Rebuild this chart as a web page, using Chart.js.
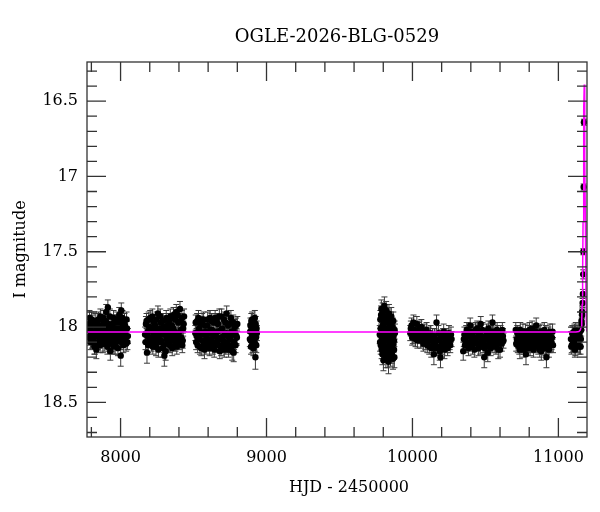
<!DOCTYPE html>
<html>
<head>
<meta charset="utf-8">
<script src="https://cdn.jsdelivr.net/npm/chart.js@4.4.1/dist/chart.umd.min.js"></script>
<style>
  html, body { margin: 0; padding: 0; background: #fff; }
  #wrap { width: 600px; height: 512px; }
</style>
</head>
<body>
<div id="wrap"><canvas id="lc" width="600" height="512"></canvas></div>
<script>
// [HJD - 2450000, I mag, error], one array per season
const season1 = [
  [7778,18.02,0.05],[7784,17.98,0.05],[7790,18.06,0.05],[7795,18.10,0.05],[7801,17.95,0.05],
  [7806,18.04,0.05],[7812,18.08,0.05],[7818,17.99,0.05],[7823,18.12,0.06],[7829,18.03,0.05],
  [7834,18.15,0.06],[7840,17.96,0.05],[7846,18.05,0.05],[7851,18.01,0.05],[7857,18.09,0.05],
  [7862,17.93,0.05],[7868,18.06,0.05],[7874,18.00,0.05],[7879,18.11,0.06],[7885,17.97,0.05],
  [7890,18.04,0.05],[7896,18.07,0.05],[7902,17.90,0.05],[7907,18.02,0.05],[7913,17.87,0.05],
  [7918,18.10,0.05],[7924,18.05,0.05],[7930,18.16,0.06],[7935,17.99,0.05],[7941,18.03,0.05],
  [7946,18.08,0.05],[7952,17.94,0.05],[7957,18.01,0.05],[7963,18.12,0.06],[7969,18.06,0.05],
  [7974,17.97,0.05],[7980,18.04,0.05],[7985,18.09,0.05],[7991,17.92,0.05],[7996,18.02,0.05],
  [8001,18.19,0.07],[8005,17.89,0.05],[8010,18.05,0.05],[8016,18.00,0.05],[8021,18.08,0.05],
  [8027,17.96,0.05],[8032,18.03,0.05],[8038,18.11,0.05],[8044,18.01,0.05],[8050,18.06,0.05],
  [7781,18.07,0.05],[7787,17.94,0.05],[7793,18.01,0.05],[7798,18.05,0.05],[7804,18.09,0.05],
  [7809,17.97,0.05],[7815,18.03,0.05],[7821,18.13,0.05],[7826,17.96,0.05],[7832,18.06,0.05],
  [7837,18.00,0.05],[7843,18.10,0.05],[7849,17.95,0.05],[7854,18.04,0.05],[7860,18.12,0.05],
  [7865,17.99,0.05],[7871,18.08,0.05],[7877,18.02,0.05],[7882,17.94,0.05],[7888,18.11,0.05],
  [7893,18.00,0.05],[7899,17.96,0.05],[7905,18.08,0.05],[7910,18.13,0.05],[7916,17.98,0.05],
  [7921,18.02,0.05],[7927,17.93,0.05],[7933,18.07,0.05],[7938,18.11,0.05],[7944,17.98,0.05],
  [7949,18.05,0.05],[7955,18.13,0.05],[7960,17.97,0.05],[7966,18.03,0.05],[7971,18.09,0.05],
  [7977,17.95,0.05],[7982,18.14,0.05],[7988,18.01,0.05],[7994,18.06,0.05],[7999,17.97,0.05],
  [8003,18.10,0.05],[8008,18.02,0.05],[8013,17.94,0.05],[8019,18.12,0.05],[8024,18.04,0.05],
  [8030,17.99,0.05],[8035,18.07,0.05],[8041,17.95,0.05],[8047,18.10,0.05]
];
const season2 = [
  [8168,18.05,0.05],[8174,17.98,0.05],[8181,18.17,0.07],[8187,18.03,0.05],[8193,17.95,0.05],
  [8199,18.08,0.05],[8206,18.01,0.05],[8212,18.11,0.05],[8218,17.93,0.05],[8225,18.04,0.05],
  [8231,18.07,0.05],[8237,17.99,0.05],[8243,18.13,0.06],[8250,18.02,0.05],[8256,17.91,0.05],
  [8262,18.06,0.05],[8269,18.10,0.05],[8275,17.97,0.05],[8281,18.04,0.05],[8288,18.14,0.06],
  [8294,18.00,0.05],[8300,18.19,0.07],[8306,18.05,0.05],[8313,17.94,0.05],[8319,18.09,0.05],
  [8325,18.02,0.05],[8332,17.96,0.05],[8338,18.12,0.05],[8344,18.06,0.05],[8351,17.99,0.05],
  [8357,18.08,0.05],[8363,17.92,0.05],[8370,18.03,0.05],[8376,18.11,0.05],[8382,17.90,0.05],
  [8388,18.05,0.05],[8395,17.97,0.05],[8401,18.07,0.05],[8407,17.88,0.05],[8413,18.02,0.05],
  [8420,17.94,0.05],[8426,18.09,0.05],[8432,17.98,0.05],
  [8171,18.10,0.05],[8178,17.96,0.05],[8184,18.06,0.05],[8190,18.12,0.05],[8196,18.00,0.05],
  [8203,17.94,0.05],[8209,18.07,0.05],[8215,18.02,0.05],[8221,18.13,0.05],[8228,17.97,0.05],
  [8234,18.10,0.05],[8240,18.03,0.05],[8246,17.95,0.05],[8253,18.08,0.05],[8259,18.15,0.05],
  [8265,18.01,0.05],[8272,17.93,0.05],[8278,18.09,0.05],[8284,18.05,0.05],[8291,17.96,0.05],
  [8297,18.12,0.05],[8303,18.03,0.05],[8309,18.16,0.06],[8316,18.07,0.05],[8322,17.99,0.05],
  [8328,18.11,0.05],[8335,18.04,0.05],[8341,17.93,0.05],[8347,18.09,0.05],[8354,18.14,0.05],
  [8360,18.01,0.05],[8366,18.06,0.05],[8373,17.95,0.05],[8379,18.08,0.05],[8385,18.13,0.05],
  [8391,17.92,0.05],[8398,18.04,0.05],[8404,18.10,0.05],[8410,17.96,0.05],[8416,18.07,0.05],
  [8423,18.12,0.05],[8429,18.01,0.05],[8435,17.93,0.05]
];
const season3 = [
  [8512,18.04,0.05],[8518,18.10,0.05],[8525,17.96,0.05],[8531,18.07,0.05],[8537,18.01,0.05],
  [8544,18.13,0.05],[8550,17.98,0.05],[8556,18.05,0.05],[8563,18.09,0.05],[8569,17.95,0.05],
  [8575,18.15,0.06],[8582,18.03,0.05],[8588,18.07,0.05],[8594,17.99,0.05],[8601,18.11,0.05],
  [8607,18.04,0.05],[8613,17.94,0.05],[8620,18.08,0.05],[8626,18.02,0.05],[8632,18.13,0.05],
  [8639,17.97,0.05],[8645,18.06,0.05],[8651,18.10,0.05],[8658,17.96,0.05],[8664,18.03,0.05],
  [8670,18.12,0.05],[8677,17.93,0.05],[8683,18.07,0.05],[8689,18.14,0.05],[8696,18.01,0.05],
  [8702,18.09,0.05],[8708,17.95,0.05],[8715,18.05,0.05],[8721,18.13,0.05],[8727,17.91,0.05],
  [8734,18.06,0.05],[8740,18.15,0.05],[8746,17.98,0.05],[8753,18.08,0.05],[8759,18.03,0.05],
  [8765,18.16,0.06],[8772,17.97,0.05],[8778,18.10,0.05],[8784,18.04,0.05],[8791,17.99,0.05],
  [8797,18.07,0.05],
  [8515,17.97,0.05],[8521,18.06,0.05],[8528,18.12,0.05],[8534,17.94,0.05],[8540,18.08,0.05],
  [8547,18.03,0.05],[8553,18.14,0.05],[8559,17.96,0.05],[8566,18.04,0.05],[8572,18.11,0.05],
  [8578,17.99,0.05],[8585,18.13,0.05],[8591,18.05,0.05],[8597,17.95,0.05],[8604,18.09,0.05],
  [8610,18.14,0.05],[8616,18.02,0.05],[8623,17.96,0.05],[8629,18.10,0.05],[8635,18.05,0.05],
  [8642,18.15,0.05],[8648,17.94,0.05],[8654,18.04,0.05],[8661,18.11,0.05],[8667,17.98,0.05],
  [8673,18.08,0.05],[8680,18.16,0.05],[8686,18.02,0.05],[8692,17.93,0.05],[8699,18.12,0.05],
  [8705,18.06,0.05],[8711,18.15,0.05],[8718,17.97,0.05],[8724,18.04,0.05],[8730,18.10,0.05],
  [8737,17.99,0.05],[8743,18.12,0.05],[8749,18.06,0.05],[8756,17.94,0.05],[8762,18.13,0.05],
  [8769,18.05,0.05],[8775,18.17,0.06],[8781,18.00,0.05],[8788,18.12,0.05],[8794,18.06,0.05],
  [8800,17.98,0.05]
];
const season4 = [
  [8888,18.03,0.05],[8892,18.09,0.05],[8896,17.96,0.05],[8900,18.06,0.05],[8904,18.12,0.05],
  [8908,17.99,0.05],[8912,18.04,0.05],[8916,18.10,0.05],[8920,17.94,0.05],[8924,18.20,0.08],
  [8928,18.07,0.05],[8932,18.01,0.05],
  [8886,18.08,0.05],[8890,17.99,0.05],[8894,18.13,0.05],[8898,18.02,0.05],[8902,17.95,0.05],
  [8906,18.08,0.05],[8910,18.14,0.05],[8914,17.97,0.05],[8918,18.05,0.05],[8922,18.11,0.05],
  [8926,17.98,0.05],[8930,18.12,0.05],[8934,18.04,0.05]
];
const season5 = [
  [9776,18.05,0.06],[9780,17.95,0.06],[9783,18.12,0.06],[9787,17.88,0.06],[9790,18.08,0.06],
  [9794,18.18,0.07],[9797,17.99,0.06],[9801,18.22,0.07],[9804,18.03,0.06],[9808,17.86,0.06],
  [9811,18.14,0.06],[9815,17.93,0.06],[9818,18.20,0.07],[9822,18.06,0.06],[9825,17.97,0.06],
  [9829,18.16,0.06],[9832,18.01,0.06],[9836,18.23,0.08],[9839,17.91,0.06],[9843,18.10,0.06],
  [9846,18.04,0.06],[9850,18.19,0.07],[9853,17.96,0.06],[9857,18.08,0.06],[9860,18.13,0.06],
  [9864,18.00,0.06],[9867,18.21,0.07],[9871,18.06,0.06],[9874,18.15,0.06],[9878,18.02,0.06],
  [9778,18.10,0.06],[9782,18.01,0.06],[9785,17.92,0.06],[9789,18.15,0.06],[9792,18.03,0.06],
  [9796,17.90,0.06],[9799,18.11,0.06],[9803,17.97,0.06],[9806,18.17,0.06],[9810,18.05,0.06],
  [9813,17.95,0.06],[9817,18.09,0.06],[9820,17.89,0.06],[9824,18.13,0.06],[9827,18.02,0.06],
  [9831,18.20,0.07],[9834,17.94,0.06],[9838,18.07,0.06],[9841,18.16,0.06],[9845,17.98,0.06],
  [9848,18.12,0.06],[9852,18.05,0.06],[9855,17.93,0.06],[9859,18.18,0.06],[9862,18.03,0.06],
  [9866,18.10,0.06],[9869,17.96,0.06],[9873,18.09,0.06],[9876,18.20,0.07],[9880,18.04,0.06],
  [9800,18.08,0.06],[9814,18.02,0.06],[9828,18.09,0.06],[9842,18.00,0.06],[9856,18.14,0.06],
  [9870,18.11,0.06]
];
const season6 = [
  [9985,18.04,0.05],[9994,17.99,0.05],[10003,18.06,0.05],[10012,18.02,0.05],[10021,18.08,0.05],
  [10030,17.98,0.05],[10039,18.05,0.05],[10048,18.01,0.05],[10057,18.09,0.05],[10066,18.04,0.05],
  [10075,18.11,0.05],[10084,18.03,0.05],[10093,18.07,0.05],[10102,18.12,0.05],[10111,18.05,0.05],
  [10120,18.09,0.05],[10129,18.14,0.06],[10138,18.06,0.05],[10147,18.18,0.07],[10156,18.10,0.05],
  [10165,17.97,0.05],[10174,18.13,0.05],[10183,18.08,0.05],[10192,18.20,0.07],[10201,18.11,0.05],
  [10210,18.06,0.05],[10219,18.15,0.06],[10228,18.09,0.05],[10237,18.12,0.05],[10246,18.07,0.05],
  [10255,18.10,0.05],[10264,18.05,0.05],
  [9989,18.01,0.05],[9998,18.07,0.05],[10007,17.97,0.05],[10016,18.05,0.05],[10025,18.03,0.05],
  [10034,18.09,0.05],[10043,18.02,0.05],[10052,18.06,0.05],[10061,18.00,0.05],[10070,18.08,0.05],
  [10079,18.05,0.05],[10088,18.10,0.05],[10097,18.02,0.05],[10106,18.08,0.05],[10115,18.13,0.05],
  [10124,18.04,0.05],[10133,18.09,0.05],[10142,18.12,0.05],[10151,18.06,0.05],[10160,18.14,0.05],
  [10169,18.09,0.05],[10178,18.04,0.05],[10187,18.16,0.06],[10196,18.07,0.05],[10205,18.13,0.05],
  [10214,18.03,0.05],[10223,18.10,0.05],[10232,18.06,0.05],[10241,18.14,0.05],[10250,18.04,0.05],
  [10259,18.12,0.05],[10268,18.08,0.05]
];
const season7 = [
  [10348,18.16,0.06],[10356,18.05,0.05],[10364,18.09,0.05],[10372,18.02,0.05],[10380,18.11,0.05],
  [10388,18.06,0.05],[10396,17.99,0.05],[10404,18.08,0.05],[10412,18.13,0.05],[10420,18.03,0.05],
  [10428,18.07,0.05],[10436,18.10,0.05],[10444,18.01,0.05],[10452,18.14,0.05],[10460,18.05,0.05],
  [10468,17.98,0.05],[10476,18.09,0.05],[10484,18.12,0.05],[10492,18.20,0.07],[10500,18.06,0.05],
  [10508,18.03,0.05],[10516,18.17,0.06],[10524,18.08,0.05],[10532,18.11,0.05],[10540,18.04,0.05],
  [10548,17.97,0.05],[10556,18.10,0.05],[10564,18.06,0.05],[10572,18.13,0.05],[10580,18.02,0.05],
  [10588,18.15,0.06],[10596,18.08,0.05],[10604,18.04,0.05],[10612,18.11,0.05],[10620,18.06,0.05],
  [10352,18.08,0.05],[10360,18.12,0.05],[10368,18.04,0.05],[10376,18.06,0.05],[10384,18.14,0.05],
  [10392,18.03,0.05],[10400,18.10,0.05],[10408,18.05,0.05],[10416,18.09,0.05],[10424,18.15,0.05],
  [10432,18.02,0.05],[10440,18.07,0.05],[10448,18.11,0.05],[10456,18.04,0.05],[10464,18.13,0.05],
  [10472,18.06,0.05],[10480,18.02,0.05],[10488,18.10,0.05],[10496,18.14,0.05],[10504,18.08,0.05],
  [10512,18.12,0.05],[10520,18.01,0.05],[10528,18.06,0.05],[10536,18.14,0.05],[10544,18.09,0.05],
  [10552,18.03,0.05],[10560,18.12,0.05],[10568,18.05,0.05],[10576,18.09,0.05],[10584,18.04,0.05],
  [10592,18.11,0.05],[10600,18.15,0.05],[10608,18.07,0.05],[10616,18.02,0.05],[10624,18.09,0.05]
];
const season8 = [
  [10708,18.02,0.05],[10715,18.08,0.05],[10722,18.12,0.05],[10729,18.05,0.05],[10736,18.15,0.06],
  [10743,18.07,0.05],[10750,18.10,0.05],[10757,18.03,0.05],[10764,18.13,0.05],[10771,18.06,0.05],
  [10778,18.18,0.07],[10785,18.09,0.05],[10792,18.04,0.05],[10799,18.11,0.05],[10806,18.14,0.05],
  [10813,18.07,0.05],[10820,18.01,0.05],[10827,18.10,0.05],[10834,18.05,0.05],[10841,18.12,0.05],
  [10848,17.99,0.05],[10855,18.08,0.05],[10862,18.13,0.05],[10869,18.04,0.05],[10876,18.09,0.05],
  [10883,18.16,0.06],[10890,18.06,0.05],[10897,18.11,0.05],[10904,18.02,0.05],[10911,18.14,0.05],
  [10918,18.20,0.07],[10925,18.08,0.05],[10932,18.05,0.05],[10939,18.12,0.05],[10946,18.07,0.05],
  [10953,18.10,0.05],[10960,18.03,0.05],
  [10711,18.11,0.05],[10718,18.04,0.05],[10725,18.09,0.05],[10732,18.13,0.05],[10739,18.02,0.05],
  [10746,18.12,0.05],[10753,18.06,0.05],[10760,18.15,0.05],[10767,18.08,0.05],[10774,18.03,0.05],
  [10781,18.11,0.05],[10788,18.14,0.05],[10795,18.07,0.05],[10802,18.02,0.05],[10809,18.09,0.05],
  [10816,18.12,0.05],[10823,18.05,0.05],[10830,18.15,0.05],[10837,18.08,0.05],[10844,18.03,0.05],
  [10851,18.11,0.05],[10858,18.06,0.05],[10865,18.10,0.05],[10872,18.15,0.05],[10879,18.03,0.05],
  [10886,18.09,0.05],[10893,18.13,0.05],[10900,18.07,0.05],[10907,18.10,0.05],[10914,18.04,0.05],
  [10921,18.13,0.05],[10928,18.09,0.05],[10935,18.15,0.05],[10942,18.03,0.05],[10949,18.11,0.05],
  [10956,18.07,0.05],[10963,18.12,0.05]
];
const season9 = [
  [11086,18.08,0.05],[11092,18.12,0.05],[11098,18.05,0.05],[11104,18.10,0.05],[11110,18.03,0.05],
  [11116,18.14,0.05],[11122,18.07,0.05],[11128,18.11,0.05],[11134,18.04,0.05],[11140,18.09,0.05],
  [11146,18.06,0.05],[11152,18.13,0.05],[11156,18.02,0.04],[11160,17.98,0.04],[11163,17.92,0.04],
  [11166,17.84,0.03],[11168,17.78,0.03],[11170,17.65,0.03],[11171,17.50,0.02],[11173,17.07,0.02],
  [11175,16.64,0.02],
  [11089,18.13,0.05],[11095,18.04,0.05],[11101,18.11,0.05],[11107,18.07,0.05],[11113,18.15,0.05],
  [11119,18.02,0.05],[11125,18.09,0.05],[11131,18.12,0.05],[11137,18.06,0.05],[11143,18.13,0.05],
  [11149,18.03,0.05],[11154,18.08,0.05],[11158,17.96,0.04],[11162,17.90,0.04]
];

// model curve
const modelHjd = [7770, 11120, 11140, 11150, 11156, 11160, 11163, 11166, 11169, 11172, 11175, 11177,
                  11179, 11182, 11185, 11188, 11191, 11194, 11196];
const modelMag = [18.033, 18.033, 18.03, 18.02, 18.0, 17.95, 17.85, 17.65, 17.3, 16.9, 16.55, 16.39,
                  16.55, 16.9, 17.3, 17.7, 17.95, 18.02, 18.03];

const xTicks = [8000, 9000, 10000, 11000];
const yTicks = [16.5, 17, 17.5, 18, 18.5];

const obs = [].concat(season1, season2, season3, season4, season5, season6, season7, season8, season9);
const points = obs.map(p => ({ x: p[0], y: p[1], err: p[2] }));
const model = modelHjd.map((t, i) => ({ x: t, y: modelMag[i] }));

const serif = 'DejaVu Serif';

// error bars under the points
const errorBars = {
    id: 'errorBars',
    beforeDatasetsDraw(chart) {
        const ctx = chart.ctx;
        const xs = chart.scales.x, ys = chart.scales.y;
        const a = chart.chartArea;
        ctx.save();
        ctx.beginPath();
        ctx.rect(a.left, a.top, a.right - a.left, a.bottom - a.top);
        ctx.clip();
        ctx.strokeStyle = '#3a3a3a';
        ctx.lineWidth = 1;
        points.forEach(p => {
            const px = xs.getPixelForValue(p.x);
            const y1 = ys.getPixelForValue(p.y - p.err);
            const y2 = ys.getPixelForValue(p.y + p.err);
            ctx.beginPath();
            ctx.moveTo(px, y1); ctx.lineTo(px, y2);
            ctx.moveTo(px - 3, y1); ctx.lineTo(px + 3, y1);
            ctx.moveTo(px - 3, y2); ctx.lineTo(px + 3, y2);
            ctx.stroke();
        });
        ctx.restore();
    }
};

// frame, inward ticks on all four sides, axis titles and title
const frame = {
    id: 'frame',
    afterDraw(chart) {
        const ctx = chart.ctx;
        const xs = chart.scales.x, ys = chart.scales.y;
        const a = chart.chartArea;
        ctx.save();
        ctx.strokeStyle = '#333';
        ctx.lineWidth = 1.3;
        ctx.strokeRect(a.left, a.top, a.right - a.left, a.bottom - a.top);

        ctx.beginPath();
        for (let v = 7800; v <= xs.max; v += 200) {
            const px = xs.getPixelForValue(v);
            const len = xTicks.includes(v) ? 19 : 10;
            ctx.moveTo(px, a.bottom); ctx.lineTo(px, a.bottom - len);
            ctx.moveTo(px, a.top); ctx.lineTo(px, a.top + len);
        }
        for (let k = 163; k <= 187; k++) {
            const v = k / 10;
            if (v < ys.min || v > ys.max) continue;
            const py = ys.getPixelForValue(v);
            const len = yTicks.includes(v) ? 19 : 10;
            ctx.moveTo(a.left, py); ctx.lineTo(a.left + len, py);
            ctx.moveTo(a.right, py); ctx.lineTo(a.right - len, py);
        }
        ctx.stroke();

        ctx.fillStyle = '#000';
        ctx.textAlign = 'center';
        ctx.font = '18px "' + serif + '"';
        ctx.textBaseline = 'alphabetic';
        ctx.fillText('OGLE-2026-BLG-0529', (a.left + a.right) / 2, 42);

        ctx.font = '16px "' + serif + '"';
        ctx.fillText('HJD - 2450000', (a.left + a.right) / 2 + 12, 492);

        ctx.translate(21, (a.top + a.bottom) / 2);
        ctx.rotate(-Math.PI / 2);
        ctx.textBaseline = 'middle';
        ctx.fillText('I magnitude', 0, 0);
        ctx.restore();
    }
};

new Chart(document.getElementById('lc').getContext('2d'), {
    type: 'scatter',
    data: {
        datasets: [{
            label: 'model',
            data: model,
            showLine: true,
            borderColor: '#ff00ff',
            borderWidth: 1.5,
            pointRadius: 0,
            fill: false,
            tension: 0,
            order: 0
        }, {
            label: 'OGLE',
            data: points,
            pointRadius: 3.2,
            pointBackgroundColor: '#000',
            pointBorderColor: '#000',
            pointBorderWidth: 0,
            order: 1
        }]
    },
    options: {
        responsive: false,
        animation: false,
        layout: { padding: { top: 62, right: 13, left: 0, bottom: 0 } },
        plugins: {
            legend: { display: false },
            tooltip: { enabled: false }
        },
        scales: {
            x: {
                type: 'linear',
                min: 7770,
                max: 11196,
                grid: { display: false, drawTicks: false },
                border: { display: false },
                afterBuildTicks: s => { s.ticks = xTicks.map(v => ({ value: v })); },
                afterFit: s => { s.height = 75; },
                ticks: {
                    padding: 11,
                    color: '#000',
                    font: { family: serif, size: 16 },
                    callback: v => String(v)
                }
            },
            y: {
                type: 'linear',
                reverse: true,
                min: 16.24,
                max: 18.73,
                grid: { display: false, drawTicks: false },
                border: { display: false },
                afterBuildTicks: s => { s.ticks = yTicks.map(v => ({ value: v })); },
                afterFit: s => { s.width = 87; },
                ticks: {
                    padding: 9,
                    color: '#000',
                    font: { family: serif, size: 16 },
                    callback: v => String(v)
                }
            }
        }
    },
    plugins: [errorBars, frame]
});
</script>
</body>
</html>
